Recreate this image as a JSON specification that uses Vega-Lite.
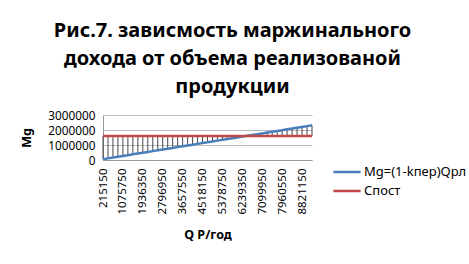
{
  "$schema": "https://vega.github.io/schema/vega-lite/v6.json",
  "width": 209,
  "height": 45,
  "autosize": {"type": "none"},
  "padding": {"left": 103, "top": 115, "right": 157, "bottom": 104},
  "background": "white",
  "config": {
    "font": "Noto Sans",
    "view": {"stroke": null},
    "axis": {"labelColor": "#000", "titleColor": "#000", "labelFont": "Noto Sans", "titleFont": "Noto Sans"},
    "axisY": {"grid": true, "gridColor": "#bdbdbd", "labelOverlap": false, "labelBound": false}
  },
  "title": {
    "text": ["Рис.7. зависмость маржинального", "дохода от объема реализованой", "продукции"],
    "font": "Noto Sans",
    "fontSize": 20,
    "fontWeight": "bold",
    "color": "#000",
    "anchor": "middle",
    "frame": "group",
    "dx": 25,
    "lineHeight": 28,
    "offset": 13
  },
  "data": {
    "values": [
      {"Q": 215150, "Mg": 53788, "C": 1600000},
      {"Q": 430300, "Mg": 107575, "C": 1600000},
      {"Q": 645450, "Mg": 161363, "C": 1600000},
      {"Q": 860600, "Mg": 215150, "C": 1600000},
      {"Q": 1075750, "Mg": 268938, "C": 1600000},
      {"Q": 1290900, "Mg": 322725, "C": 1600000},
      {"Q": 1506050, "Mg": 376513, "C": 1600000},
      {"Q": 1721200, "Mg": 430300, "C": 1600000},
      {"Q": 1936350, "Mg": 484088, "C": 1600000},
      {"Q": 2151500, "Mg": 537875, "C": 1600000},
      {"Q": 2366650, "Mg": 591663, "C": 1600000},
      {"Q": 2581800, "Mg": 645450, "C": 1600000},
      {"Q": 2796950, "Mg": 699238, "C": 1600000},
      {"Q": 3012100, "Mg": 753025, "C": 1600000},
      {"Q": 3227250, "Mg": 806813, "C": 1600000},
      {"Q": 3442400, "Mg": 860600, "C": 1600000},
      {"Q": 3657550, "Mg": 914388, "C": 1600000},
      {"Q": 3872700, "Mg": 968175, "C": 1600000},
      {"Q": 4087850, "Mg": 1021963, "C": 1600000},
      {"Q": 4303000, "Mg": 1075750, "C": 1600000},
      {"Q": 4518150, "Mg": 1129538, "C": 1600000},
      {"Q": 4733300, "Mg": 1183325, "C": 1600000},
      {"Q": 4948450, "Mg": 1237113, "C": 1600000},
      {"Q": 5163600, "Mg": 1290900, "C": 1600000},
      {"Q": 5378750, "Mg": 1344688, "C": 1600000},
      {"Q": 5593900, "Mg": 1398475, "C": 1600000},
      {"Q": 5809050, "Mg": 1452263, "C": 1600000},
      {"Q": 6024200, "Mg": 1506050, "C": 1600000},
      {"Q": 6239350, "Mg": 1559838, "C": 1600000},
      {"Q": 6454500, "Mg": 1613625, "C": 1600000},
      {"Q": 6669650, "Mg": 1667413, "C": 1600000},
      {"Q": 6884800, "Mg": 1721200, "C": 1600000},
      {"Q": 7099950, "Mg": 1774988, "C": 1600000},
      {"Q": 7315100, "Mg": 1828775, "C": 1600000},
      {"Q": 7530250, "Mg": 1882563, "C": 1600000},
      {"Q": 7745400, "Mg": 1936350, "C": 1600000},
      {"Q": 7960550, "Mg": 1990138, "C": 1600000},
      {"Q": 8175700, "Mg": 2043925, "C": 1600000},
      {"Q": 8390850, "Mg": 2097713, "C": 1600000},
      {"Q": 8606000, "Mg": 2151500, "C": 1600000},
      {"Q": 8821150, "Mg": 2205288, "C": 1600000},
      {"Q": 9036300, "Mg": 2259075, "C": 1600000},
      {"Q": 9251450, "Mg": 2312863, "C": 1600000}
    ]
  },
  "encoding": {
    "x": {
      "field": "Q",
      "type": "ordinal",
      "sort": "ascending",
      "scale": {"type": "point", "padding": 0},
      "axis": {
        "title": "Q Р/год",
        "titleFontSize": 12.5,
        "titleFontWeight": "bold",
        "titlePadding": 14,
        "labelAngle": -90,
        "labelFontSize": 11.5,
        "labelPadding": 8,
        "ticks": false,
        "domain": true,
        "domainColor": "#9a9a9a",
        "grid": false,
        "values": [215150, 1075750, 1936350, 2796950, 3657550, 4518150, 5378750, 6239350, 7099950, 7960550, 8821150]
      }
    }
  },
  "layer": [
    {
      "mark": {"type": "rule", "color": "#1a1a1a", "strokeWidth": 0.8},
      "encoding": {
        "y": {
          "field": "Mg",
          "type": "quantitative",
          "scale": {"domain": [0, 3000000], "nice": false},
          "axis": {
            "title": "Mg",
            "titleFontSize": 12.5,
            "titleFontWeight": "bold",
            "titlePadding": 14,
            "values": [0, 1000000, 2000000, 3000000],
            "format": "d",
            "labelFontSize": 11.8,
            "labelPadding": 8,
            "labelOverlap": false,
            "ticks": false,
            "domainColor": "#9a9a9a",
            "gridColor": "#bdbdbd",
            "grid": true
          }
        },
        "y2": {"field": "C"}
      }
    },
    {
      "transform": [{"fold": ["Mg", "C"], "as": ["series", "value"]}],
      "mark": {"type": "line", "strokeWidth": 2.5},
      "encoding": {
        "y": {
          "field": "value",
          "type": "quantitative",
          "axis": {
            "title": "Mg",
            "titleFontSize": 12.5,
            "titleFontWeight": "bold",
            "titlePadding": 14,
            "values": [0, 1000000, 2000000, 3000000],
            "format": "d",
            "labelFontSize": 11.8,
            "labelPadding": 8,
            "labelOverlap": false,
            "ticks": false,
            "domainColor": "#9a9a9a",
            "gridColor": "#bdbdbd",
            "grid": true
          }
        },
        "color": {
          "field": "series",
          "type": "nominal",
          "scale": {"domain": ["Mg", "C"], "range": ["#4a7ebb", "#be4b48"]},
          "legend": {
            "title": null,
            "orient": "none",
            "legendX": 232,
            "legendY": 45,
            "padding": 0,
            "rowPadding": 0,
            "symbolType": "M-1.3,0H1.3",
            "symbolSize": 441,
            "symbolStrokeWidth": 2.5,
            "labelOffset": 5,
            "labelFontSize": 13,
            "labelColor": "#000",
            "labelFont": "Noto Sans",
            "labelExpr": "datum.label == 'Mg' ? 'Mg=(1-kпер)Qрл' : 'Спост'"
          }
        }
      }
    }
  ]
}
